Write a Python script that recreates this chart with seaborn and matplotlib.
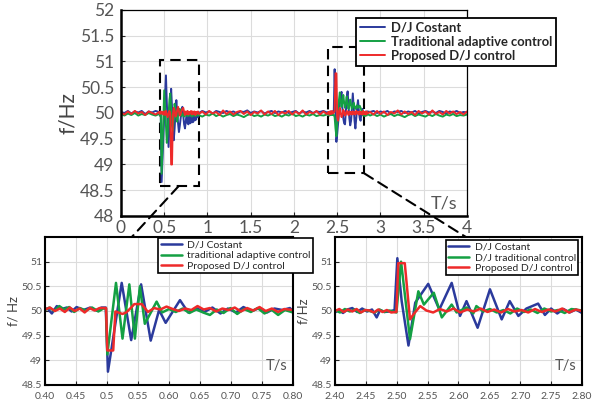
import numpy as np
import matplotlib
matplotlib.use("Agg")
import matplotlib.pyplot as plt
import seaborn as sns
from matplotlib.patches import Rectangle, ConnectionPatch

# ---- main plot: shared sampling grid (coarse where flat, fine around disturbances)
t_main = np.round(np.concatenate([
    np.linspace(0.00, 0.40, 11),
    np.linspace(0.44, 0.89, 46),
    np.linspace(0.90, 2.38, 38),
    np.linspace(2.40, 2.85, 46),
    np.linspace(2.88, 4.00, 29),
]), 3)

f_const_main = [
    50.02, 50.00, 50.04, 49.99, 50.03, 50.01, 50.04, 49.98, 50.03, 50.01, 50.04,
    50.02, 50.00, 50.03, 48.66, 49.10, 49.52,
    49.95, 50.35, 50.73, 50.20, 49.75, 49.34, 49.70, 50.10, 50.47, 50.10,
    49.75, 49.47, 49.70, 50.00, 50.25, 50.00, 49.80, 49.63, 49.75, 49.90,
    50.05, 50.12, 49.95, 49.78, 49.70, 49.85, 50.00, 49.80, 49.78, 49.98,
    49.80, 49.82, 49.98, 49.82, 49.84, 49.98, 49.86, 49.88, 50.02, 49.92,
    50.00, 50.04, 50.01, 50.03, 49.99, 50.04, 50.02, 50.00, 50.04, 50.01,
    50.03, 49.99, 50.03, 50.02, 50.05, 50.00, 50.03, 50.01, 50.04, 49.99,
    50.02, 50.04, 50.00, 50.03, 50.01, 50.04, 50.00, 50.02, 50.04, 49.99,
    50.03, 50.01, 50.04, 50.00, 50.03, 50.02, 50.04, 50.01,
    50.02, 50.00, 50.03, 50.01, 50.03, 50.00, 50.02, 50.85, 50.10, 49.44,
    49.60, 49.80, 50.00, 50.20, 50.35, 50.41, 50.10, 49.90, 49.80, 49.78,
    50.05, 50.30, 50.42, 50.15, 49.90, 49.76, 49.85, 50.10, 50.38, 50.10,
    49.85, 49.70, 49.90, 50.10, 50.25, 50.05, 49.90, 49.85, 50.00, 50.08,
    49.96, 50.02, 50.00, 50.03, 50.01, 50.03,
    50.02, 50.04, 50.00, 50.03, 50.01, 50.04, 49.99, 50.03, 50.02, 50.04,
    50.00, 50.03, 50.01, 50.04, 49.99, 50.02, 50.04, 50.01, 50.03, 50.00,
    50.04, 50.02, 49.99, 50.03, 50.01, 50.04, 50.00, 50.02, 50.01,
]
f_trad_main = [
    49.98, 49.95, 49.99, 49.96, 50.00, 49.95, 49.98, 49.96, 50.00, 49.97, 49.95,
    49.98, 49.96, 49.97, 48.82, 49.35, 49.90,
    50.44, 50.10, 49.75, 49.42, 49.60, 49.95, 50.25, 50.38, 50.05, 49.75,
    49.66, 49.90, 50.18, 50.05, 49.90, 49.83, 49.95, 50.05, 50.08, 49.98,
    49.94, 49.99, 49.96, 49.93, 49.98, 49.95, 49.99, 49.94, 49.97, 49.95,
    49.99, 49.96, 49.93, 49.97, 49.95, 49.99, 49.94, 49.97, 49.95, 49.98,
    49.96, 49.93, 49.97, 49.95, 49.99, 49.94, 49.97, 49.93, 49.96, 49.98,
    49.94, 49.97, 49.95, 49.92, 49.96, 49.98, 49.94, 49.96, 49.93, 49.97,
    49.95, 49.98, 49.94, 49.96, 49.93, 49.97, 49.95, 49.99, 49.94, 49.96,
    49.93, 49.97, 49.95, 49.98, 49.94, 49.96, 49.95, 49.97,
    49.97, 49.95, 49.98, 49.96, 49.98, 49.96, 49.97, 49.92, 49.70, 49.55,
    49.80, 50.05, 50.25, 50.40, 50.25, 50.12, 50.20, 50.35, 50.20, 50.10,
    50.18, 50.32, 50.18, 50.08, 50.15, 50.26, 50.15, 50.08, 50.12, 50.20,
    50.12, 50.08, 50.12, 50.15, 50.10, 50.12, 50.14, 50.10, 50.05, 49.98,
    49.95, 49.97, 49.94, 49.97, 49.95, 49.98,
    49.95, 49.98, 49.94, 49.97, 49.93, 49.96, 49.98, 49.94, 49.97, 49.95,
    49.92, 49.96, 49.98, 49.94, 49.97, 49.95, 49.93, 49.97, 49.94, 49.98,
    49.95, 49.93, 49.97, 49.95, 49.98, 49.94, 49.96, 49.95, 49.97,
]
f_prop_main = [
    50.01, 49.97, 50.03, 49.98, 50.04, 49.99, 50.02, 49.96, 50.03, 50.00, 49.97,
    50.02, 49.98, 50.03, 49.99, 50.02, 49.97,
    50.03, 49.96, 50.04, 49.98, 49.92, 49.98, 50.04, 49.98, 49.00, 49.00,
    49.95, 50.10, 50.04, 49.93, 49.96, 50.06, 50.12, 50.03, 49.95, 49.98,
    50.04, 50.08, 50.10, 50.02, 49.96, 50.03, 49.98, 50.04, 49.97, 50.02,
    49.99, 50.04, 49.97, 50.03, 49.98, 50.03, 49.96, 50.02, 49.99, 50.03,
    49.98, 50.03, 49.97, 50.04, 49.99, 50.02, 49.96, 50.05, 49.98, 50.03,
    49.97, 50.02, 50.04, 49.98, 50.03, 49.96, 50.02, 49.99, 50.05, 49.97,
    50.03, 49.98, 50.04, 49.96, 50.02, 49.99, 50.04, 49.97, 50.03, 49.98,
    50.05, 49.97, 50.02, 49.99, 50.04, 49.97, 50.03, 49.98,
    50.02, 49.97, 50.03, 49.98, 50.04, 49.99, 50.01, 50.03, 50.77, 50.77,
    49.92, 49.85, 50.02, 50.10, 50.00, 49.92, 49.96, 50.06, 50.02, 49.95,
    49.98, 50.04, 50.00, 49.96, 50.03, 49.98, 50.02, 49.97, 50.03, 49.98,
    50.02, 49.97, 50.04, 49.99, 50.02, 49.97, 50.03, 49.98, 50.02, 49.97,
    50.04, 49.98, 50.02, 49.97, 50.03, 49.99,
    50.02, 49.97, 50.04, 49.98, 50.03, 49.96, 50.02, 49.99, 50.05, 49.97,
    50.03, 49.98, 50.02, 49.96, 50.04, 49.99, 50.03, 49.97, 50.05, 49.98,
    50.02, 49.97, 50.04, 49.99, 50.03, 49.98, 50.02, 49.97, 50.03,
]

# ---- zoom 0.40-0.80 s
t1_const = [0.400, 0.404, 0.411, 0.419, 0.427, 0.435, 0.443, 0.451, 0.462, 0.473,
            0.483, 0.491, 0.498, 0.5015, 0.5237, 0.539, 0.555, 0.5705, 0.584, 0.5946,
            0.6177, 0.631, 0.644, 0.657, 0.670, 0.683, 0.695, 0.708, 0.720, 0.733,
            0.746, 0.758, 0.770, 0.783, 0.795, 0.800]
f1_const = [50.04, 50.05, 49.95, 50.10, 50.04, 50.07, 49.99, 50.08, 50.02, 50.07,
            50.01, 50.07, 50.07, 48.77, 50.57, 49.41, 50.54, 49.40, 50.02, 49.76,
            50.22, 49.97, 50.06, 49.98, 50.07, 49.95, 50.05, 49.97, 50.08, 50.00,
            50.06, 49.97, 50.05, 50.02, 50.06, 50.00]
t1_trad = [0.400, 0.407, 0.415, 0.423, 0.431, 0.439, 0.447, 0.456, 0.466, 0.476,
           0.486, 0.494, 0.4984, 0.5005, 0.5145, 0.525, 0.536, 0.545, 0.553, 0.561,
           0.580, 0.589, 0.600, 0.611, 0.622, 0.633, 0.644, 0.655, 0.666, 0.677,
           0.688, 0.699, 0.710, 0.721, 0.732, 0.743, 0.754, 0.765, 0.776, 0.787, 0.800]
f1_trad = [50.02, 50.07, 50.00, 50.10, 50.03, 50.08, 49.98, 50.06, 50.01, 50.07,
           49.99, 50.05, 50.05, 49.12, 50.57, 49.44, 50.54, 49.44, 50.50, 49.74,
           50.19, 49.97, 50.04, 49.98, 50.05, 49.96, 50.03, 49.97, 49.92, 50.03,
           49.96, 50.06, 49.94, 50.04, 49.98, 50.06, 49.95, 50.03, 49.92, 50.02, 49.97]
t1_prop = [0.400, 0.408, 0.416, 0.424, 0.432, 0.440, 0.448, 0.456, 0.464, 0.472,
           0.480, 0.488, 0.4985, 0.5005, 0.510, 0.5135, 0.525, 0.531, 0.539, 0.544,
           0.556, 0.566, 0.576, 0.586, 0.596, 0.606, 0.616, 0.626, 0.636, 0.646,
           0.656, 0.666, 0.676, 0.686, 0.696, 0.706, 0.716, 0.726, 0.736, 0.746,
           0.756, 0.766, 0.776, 0.786, 0.800]
f1_prop = [50.03, 50.07, 50.00, 50.05, 49.98, 50.07, 50.00, 50.05, 49.97, 50.06,
           50.01, 50.06, 50.06, 49.20, 49.20, 49.99, 49.94, 49.97, 50.07, 50.14,
           50.14, 49.98, 50.06, 50.03, 50.09, 50.04, 50.00, 50.05, 50.02, 50.10,
           50.03, 50.06, 49.99, 50.05, 50.02, 50.07, 49.99, 50.06, 50.01, 50.08,
           50.00, 50.05, 49.98, 50.04, 50.02]

# ---- zoom 2.40-2.80 s
t2_const = [2.400, 2.406, 2.413, 2.420, 2.428, 2.436, 2.444, 2.452, 2.460, 2.4675,
            2.473, 2.480, 2.488, 2.4965, 2.501, 2.508, 2.519, 2.530, 2.551, 2.569,
            2.589, 2.6025, 2.613, 2.631, 2.651, 2.670, 2.683, 2.697, 2.710, 2.729,
            2.740, 2.750, 2.760, 2.770, 2.780, 2.790, 2.800]
f2_const = [49.97, 50.02, 49.96, 50.03, 50.06, 49.98, 50.05, 49.99, 50.03, 49.87,
            50.02, 49.98, 49.99, 50.02, 51.07, 50.20, 49.30, 50.17, 50.55, 50.03,
            50.57, 49.90, 50.20, 49.66, 50.44, 49.83, 50.20, 49.90, 50.05, 50.15,
            49.92, 50.05, 49.95, 50.04, 49.97, 50.03, 49.96]
t2_trad = [2.400, 2.408, 2.416, 2.424, 2.432, 2.440, 2.448, 2.456, 2.464, 2.472,
           2.480, 2.488, 2.4995, 2.507, 2.5215, 2.535, 2.544, 2.560, 2.573, 2.589,
           2.597, 2.613, 2.624, 2.629, 2.640, 2.651, 2.662, 2.673, 2.684, 2.695,
           2.706, 2.717, 2.728, 2.739, 2.750, 2.761, 2.772, 2.783, 2.800]
f2_trad = [50.02, 49.97, 50.04, 49.99, 50.03, 49.96, 50.02, 50.00, 49.97, 50.03,
           49.98, 50.01, 49.97, 51.00, 49.43, 50.40, 50.13, 50.37, 49.87, 50.13,
           49.97, 50.07, 49.95, 50.10, 49.99, 50.04, 49.97, 50.02, 49.95, 50.05,
           49.98, 50.03, 49.96, 50.05, 49.99, 50.02, 49.96, 50.04, 50.01]
t2_prop = [2.400, 2.407, 2.414, 2.421, 2.428, 2.435, 2.442, 2.449, 2.456, 2.463,
           2.470, 2.477, 2.484, 2.491, 2.4995, 2.5025, 2.513, 2.5215, 2.527, 2.538,
           2.548, 2.559, 2.570, 2.581, 2.592, 2.603, 2.614, 2.625, 2.636, 2.647,
           2.658, 2.669, 2.680, 2.691, 2.702, 2.713, 2.724, 2.735, 2.746, 2.757,
           2.768, 2.779, 2.790, 2.800]
f2_prop = [50.00, 50.04, 49.98, 50.03, 49.99, 50.04, 49.97, 50.02, 50.01, 49.97,
           50.03, 49.98, 50.02, 49.97, 49.98, 50.97, 50.97, 49.83, 49.93, 50.10,
           50.01, 49.97, 50.04, 49.99, 50.05, 49.97, 50.03, 49.99, 50.05, 49.98,
           50.03, 49.97, 50.04, 49.99, 50.02, 49.97, 50.04, 49.98, 50.03, 49.99,
           50.05, 49.97, 50.03, 50.00]

main_labels = ["D/J Costant", "Traditional adaptive control", "Proposed D/J control"]
zoom1_labels = ["D/J Costant", "traditional adaptive control", "Proposed D/J control"]
zoom2_labels = ["D/J Costant", "D/J traditional control", "Proposed D/J control"]
main_xticks = ["0", "0.5", "1", "1.5", "2", "2.5", "3", "3.5", "4"]
main_yticks = ["48", "48.5", "49", "49.5", "50", "50.5", "51", "51.5", "52"]
zoom_yticks = ["48.5", "49", "49.5", "50", "50.5", "51"]
zoom1_xticks = ["0.40", "0.45", "0.5", "0.55", "0.60", "0.65", "0.70", "0.75", "0.80"]
zoom2_xticks = ["2.40", "2.45", "2.50", "2.55", "2.60", "2.65", "2.70", "2.75", "2.80"]

colors = ["#2B3A9C", "#14A043", "#EE2A2A"]

sns.set_style("whitegrid", {"grid.color": "#DCDCDC", "axes.edgecolor": "black",
                            "xtick.direction": "in", "ytick.direction": "in",
                            "xtick.bottom": True, "ytick.left": True})
plt.rcParams["font.family"] = ["Lato", "DejaVu Sans"]

fig = plt.figure(figsize=(5.93, 4.08), dpi=100)
ax = fig.add_axes([0.204, 0.4706, 0.5835, 0.5049])
ax1 = fig.add_axes([0.0759, 0.0564, 0.4182, 0.3627])
ax2 = fig.add_axes([0.5649, 0.0564, 0.4165, 0.3627])


def draw(a, series, labels, lw):
    for (t, f), lab, c in zip(series, labels, colors):
        sns.lineplot(x=t, y=f, ax=a, color=c, linewidth=lw, label=lab,
                     sort=False, estimator=None)


draw(ax, [(t_main, f_const_main), (t_main, f_trad_main), (t_main, f_prop_main)],
     main_labels, 1.4)
draw(ax1, [(t1_const, f1_const), (t1_trad, f1_trad), (t1_prop, f1_prop)],
     zoom1_labels, 1.8)
draw(ax2, [(t2_const, f2_const), (t2_trad, f2_trad), (t2_prop, f2_prop)],
     zoom2_labels, 1.8)

# main axes
ax.set_xlim(0, 4)
ax.set_ylim(48, 52)
ax.set_xticks(np.arange(0, 4.01, 0.5), main_xticks)
ax.set_yticks(np.arange(48, 52.01, 0.5), main_yticks)
ax.tick_params(labelsize=12.5, labelcolor="#555555", length=3, pad=3)
ax.tick_params(axis="y", pad=5)
ax.set_xlabel("")
ax.set_ylabel("f/Hz", fontsize=15, color="#444444", labelpad=1)
ax.text(0.935, 0.06, "T/s", transform=ax.transAxes, fontsize=13,
        color="#555555", ha="center", va="center")
for s in ["left", "bottom"]:
    ax.spines[s].set_linewidth(1.8)
for s in ["top", "right"]:
    ax.spines[s].set_linewidth(0.9)
ax.legend(loc="upper left", bbox_to_anchor=(0.679, 0.961), borderaxespad=0,
          frameon=True, fancybox=False, edgecolor="black", framealpha=1,
          prop={"weight": "bold", "size": 9.4}, handlelength=1.9,
          handletextpad=0.5, borderpad=0.3, labelspacing=0.15).get_frame().set_linewidth(1.3)

# dashed zoom boxes
box_style = dict(fill=False, edgecolor="black", linewidth=1.5, linestyle=(0, (5, 3)))
ax.add_patch(Rectangle((0.455, 48.58), 0.445, 2.45, **box_style))
ax.add_patch(Rectangle((2.39, 48.83), 0.42, 2.45, **box_style))

# zoom axes
for a, xt in [(ax1, zoom1_xticks), (ax2, zoom2_xticks)]:
    lo = float(xt[0])
    a.set_xlim(lo, lo + 0.4)
    a.set_ylim(48.5, 51.5)
    a.set_xticks(np.linspace(lo, lo + 0.4, 9), xt)
    a.set_yticks(np.arange(48.5, 51.01, 0.5), zoom_yticks)
    a.tick_params(labelsize=7.5, labelcolor="#555555", length=3)
    a.tick_params(axis="x", pad=5)
    a.tick_params(axis="y", pad=2)
    a.set_xlabel("")
    for s in a.spines.values():
        s.set_linewidth(1.5)
    a.text(0.935, 0.13, "T/s", transform=a.transAxes, fontsize=10.5,
           color="#555555", ha="center", va="center")

ax1.set_ylabel("f/ Hz", fontsize=9.5, color="#444444", labelpad=2)
ax2.set_ylabel("f/Hz", fontsize=9.5, color="#444444", labelpad=2)
ax1.legend(loc="upper left", bbox_to_anchor=(0.456, 0.993), borderaxespad=0,
           frameon=True, fancybox=False, edgecolor="black", framealpha=1,
           fontsize=7.5, handlelength=2.0, handletextpad=0.5, borderpad=0.25,
           labelspacing=0.1).get_frame().set_linewidth(1.2)
ax2.legend(loc="upper left", bbox_to_anchor=(0.449, 0.98), borderaxespad=0,
           frameon=True, fancybox=False, edgecolor="black", framealpha=1,
           fontsize=7.5, handlelength=2.0, handletextpad=0.5, borderpad=0.25,
           labelspacing=0.1).get_frame().set_linewidth(1.2)

# dashed connectors from the boxes to the zoom panels
for xyA, axB, xyB in [((0.667, 48.58), ax1, (0.35, 1.0)),
                      ((2.81, 48.83), ax2, (0.53, 1.0))]:
    con = ConnectionPatch(xyA=xyA, coordsA=ax.transData, xyB=xyB,
                          coordsB=axB.transAxes, color="black",
                          linewidth=1.5, linestyle=(0, (5, 3)))
    fig.add_artist(con)

fig.savefig("out.png", dpi=100)
